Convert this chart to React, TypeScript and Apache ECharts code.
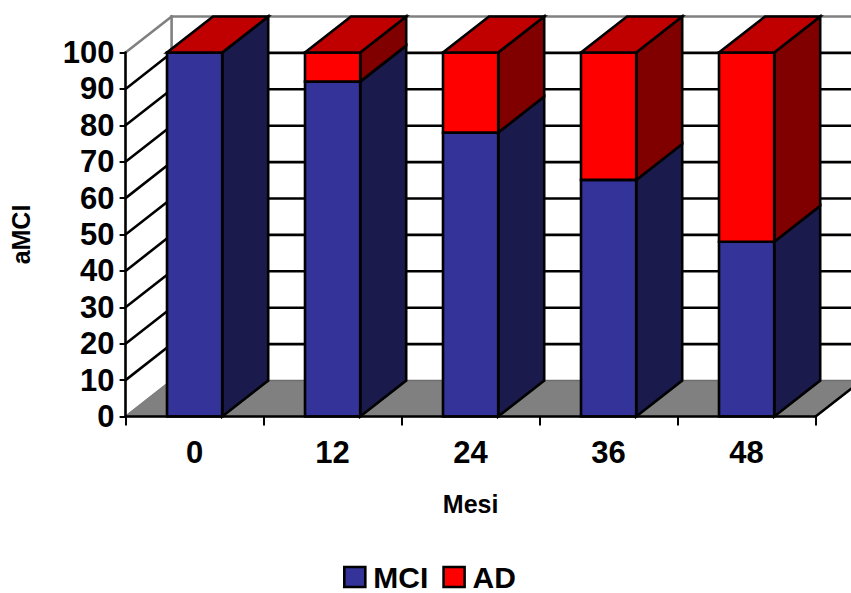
import React, { useEffect, useRef } from "react";
import * as echarts from "echarts";

// Share of patients per follow-up month, stacked to 100
const months = ["0", "12", "24", "36", "48"];
const mciValues = [100, 92, 78, 65, 48];
const adValues = [0, 8, 22, 35, 52];
const wallTicks = [0, 10, 20, 30, 40, 50, 60, 70, 80, 90, 100];

const FONT = "Liberation Sans";
const DEPTH_X = 46;
const DEPTH_Y = -36;
const BAR_RATIO = 0.4;
const EDGE = 2.6;

const line = (x1: number, y1: number, x2: number, y2: number, stroke: string, width = EDGE) => ({
  type: "line",
  shape: { x1, y1, x2, y2 },
  style: { stroke, lineWidth: width, lineCap: "square" },
});

const polygon = (points: number[][], fill: string, stroke = "#000", width = EDGE) => ({
  type: "polygon",
  shape: { points },
  style: { fill, stroke, lineWidth: width, lineJoin: "miter" },
});

// Floor and the two walls of the box, one grid line per tick
const renderWalls = (params: any, api: any) => {
  const v = api.value(1);
  const y = api.coord([0, v])[1];
  const left = params.coordSys.x;
  const right = left + params.coordSys.width;
  const children: any[] = [];
  if (v === 0) {
    children.push(
      polygon(
        [
          [left, y],
          [right, y],
          [right + DEPTH_X, y + DEPTH_Y],
          [left + DEPTH_X, y + DEPTH_Y],
        ],
        "#808080",
        "#6e6e6e",
        1.5,
      ),
    );
    children.push(line(right, y, right + DEPTH_X, y + DEPTH_Y, "#000"));
    children.push(line(left, y, left + DEPTH_X, y + DEPTH_Y, "#808080", 2));
  } else {
    const color = v === 100 ? "#808080" : "#000";
    children.push(line(left, y, left + DEPTH_X, y + DEPTH_Y, color));
    children.push(line(left + DEPTH_X, y + DEPTH_Y, right + DEPTH_X, y + DEPTH_Y, color));
    if (v === 100) {
      const base = api.coord([0, 0])[1];
      children.push(line(left + DEPTH_X, y + DEPTH_Y, left + DEPTH_X, base + DEPTH_Y, "#808080"));
    }
  }
  return { type: "group", children };
};

// One stacked segment as a box: front and side faces, plus a lid when requested
const renderSegment =
  (front: string, side: string, lid: string | null) => (_params: any, api: any) => {
    const index = api.value(0);
    const [cx, yLow] = api.coord([index, api.value(1)]);
    const yHigh = api.coord([index, api.value(2)])[1];
    const half = (api.size([1, 0])[0] * BAR_RATIO) / 2;
    const x0 = cx - half;
    const x1 = cx + half;
    const children: any[] = [
      polygon(
        [
          [x1, yLow],
          [x1 + DEPTH_X, yLow + DEPTH_Y],
          [x1 + DEPTH_X, yHigh + DEPTH_Y],
          [x1, yHigh],
        ],
        side,
      ),
      polygon(
        [
          [x0, yLow],
          [x1, yLow],
          [x1, yHigh],
          [x0, yHigh],
        ],
        front,
      ),
    ];
    if (lid) {
      children.push(
        polygon(
          [
            [x0, yHigh],
            [x1, yHigh],
            [x1 + DEPTH_X, yHigh + DEPTH_Y],
            [x0 + DEPTH_X, yHigh + DEPTH_Y],
          ],
          lid,
        ),
      );
    }
    return { type: "group", children };
  };

export default function App() {
  const ref = useRef<HTMLDivElement>(null);

  useEffect(() => {
    const chart = echarts.init(ref.current!, null, { renderer: "svg" });
    chart.setOption({
      animation: false,
      backgroundColor: "#fff",
      grid: { left: 125.6, top: 52.5, width: 690, height: 364 },
      legend: {
        data: ["MCI", "AD"],
        left: 343,
        top: 562,
        icon: "rect",
        itemWidth: 21,
        itemHeight: 20,
        itemGap: 14,
        padding: 0,
        selectedMode: false,
        itemStyle: { borderColor: "#000", borderWidth: 2.6 },
        textStyle: { fontFamily: FONT, fontWeight: "bold", fontSize: 30, lineHeight: 30, color: "#000", padding: [0, 0, 0, 3] },
      },
      xAxis: {
        type: "category",
        data: months,
        z: 5,
        name: "Mesi",
        nameLocation: "middle",
        nameGap: 75,
        nameTextStyle: { fontFamily: FONT, fontWeight: "bold", fontSize: 25, color: "#000" },
        axisLine: { lineStyle: { color: "#000", width: EDGE } },
        axisTick: { show: true, alignWithLabel: false, length: 9, lineStyle: { color: "#000", width: 2 } },
        axisLabel: { fontFamily: FONT, fontWeight: "bold", fontSize: 31, color: "#000", margin: 20 },
        splitLine: { show: false },
      },
      yAxis: {
        type: "value",
        min: 0,
        max: 100,
        interval: 10,
        z: 5,
        name: "aMCI",
        nameLocation: "middle",
        nameRotate: 90,
        nameGap: 92,
        nameTextStyle: { fontFamily: FONT, fontWeight: "bold", fontSize: 25, color: "#000" },
        axisLine: { show: true, lineStyle: { color: "#000", width: EDGE } },
        axisTick: { show: true, length: 6, lineStyle: { color: "#000", width: 2 } },
        axisLabel: { fontFamily: FONT, fontWeight: "bold", fontSize: 31, color: "#000", margin: 11 },
        splitLine: { show: false },
      },
      series: [
        {
          type: "custom",
          name: "walls",
          renderItem: renderWalls,
          silent: true,
          data: wallTicks.map((v) => [0, v]),
          encode: { x: 0, y: 1 },
        },
        {
          type: "custom",
          name: "MCI",
          renderItem: renderSegment("#333399", "#1A1A4D", null),
          itemStyle: { color: "#333399" },
          data: mciValues.map((v, i) => [i, 0, v]),
          encode: { x: 0, y: [1, 2] },
        },
        {
          type: "custom",
          name: "AD",
          renderItem: renderSegment("#FF0000", "#800000", "#C00000"),
          itemStyle: { color: "#FF0000" },
          data: adValues.map((v, i) => [i, mciValues[i], mciValues[i] + v]),
          encode: { x: 0, y: [1, 2] },
        },
      ],
    });
    return () => chart.dispose();
  }, []);

  return (
    <div
      ref={ref}
      style={{ position: "fixed", left: 0, top: 0, width: 851, height: 593 }}
    />
  );
}
